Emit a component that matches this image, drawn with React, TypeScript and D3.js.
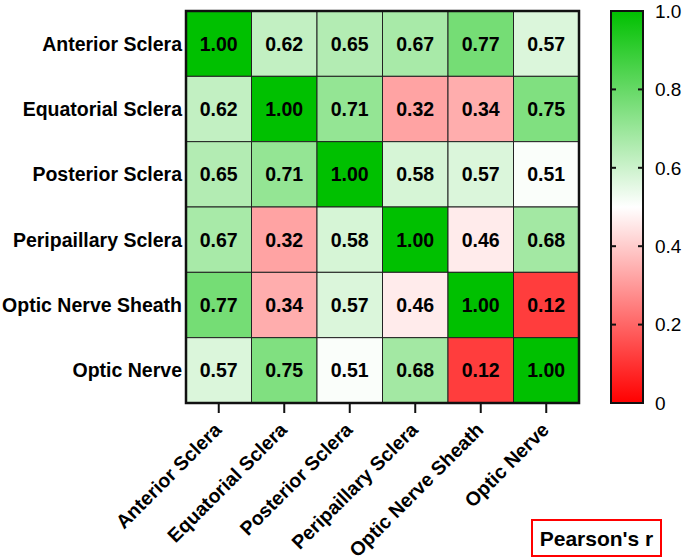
import React from 'react';
import * as d3 from 'd3';

const labels = ['Anterior Sclera', 'Equatorial Sclera', 'Posterior Sclera', 'Peripaillary Sclera', 'Optic Nerve Sheath', 'Optic Nerve'];

const rowAnterior = [1.0, 0.62, 0.65, 0.67, 0.77, 0.57];
const rowEquatorial = [0.62, 1.0, 0.71, 0.32, 0.34, 0.75];
const rowPosterior = [0.65, 0.71, 1.0, 0.58, 0.57, 0.51];
const rowPeripapillary = [0.67, 0.32, 0.58, 1.0, 0.46, 0.68];
const rowSheath = [0.77, 0.34, 0.57, 0.46, 1.0, 0.12];
const rowNerve = [0.57, 0.75, 0.51, 0.68, 0.12, 1.0];

const matrix = [rowAnterior, rowEquatorial, rowPosterior, rowPeripapillary, rowSheath, rowNerve];

const legendTicks = [0, 0.2, 0.4, 0.6, 0.8, 1.0];

const W = 685;
const H = 559;
const left = 186, top = 11, right = 579, bottom = 403;
const barX = 611, barW = 32;

export default function App() {
  const x = d3.scaleBand<string>().domain(labels).range([left, right]);
  const y = d3.scaleBand<string>().domain(labels).range([top, bottom]);
  const color = d3.scaleLinear<string>().domain([0, 0.5, 1]).range(['#ff0000', '#ffffff', '#00c000']);
  const yc = d3.scaleLinear().domain([0, 1]).range([bottom, top]);
  const font = 'Arial, "Liberation Sans", sans-serif';

  return (
    <svg width={W} height={H} style={{ position: 'absolute', left: 0, top: 0 }} fontFamily={font}>
      <defs>
        <linearGradient id="cb" x1="0" y1="1" x2="0" y2="0">
          {d3.range(0, 1.001, 0.1).map(t => (
            <stop key={t} offset={`${t * 100}%`} stopColor={color(t)} />
          ))}
        </linearGradient>
      </defs>
      {matrix.map((row, i) =>
        row.map((v, j) => (
          <g key={`${i}-${j}`}>
            <rect x={x(labels[j])} y={y(labels[i])} width={x.bandwidth()} height={y.bandwidth()}
              fill={color(v)} stroke="#222" strokeWidth={1} />
            <text x={x(labels[j])! + x.bandwidth() / 2} y={y(labels[i])! + y.bandwidth() / 2}
              dy="0.36em" textAnchor="middle" fontWeight="bold" fontSize={19.5}>{v.toFixed(2)}</text>
          </g>
        ))
      )}
      <rect x={left} y={top} width={right - left} height={bottom - top} fill="none" stroke="#111" strokeWidth={2.5} />
      {labels.map(l => (
        <text key={'r' + l} x={left - 4} y={y(l)! + y.bandwidth() / 2} dy="0.36em" textAnchor="end"
          fontWeight="bold" fontSize={19.5}>{l}</text>
      ))}
      {labels.map(l => {
        const cx = x(l)! + x.bandwidth() / 2;
        return (
          <g key={'c' + l}>
            <line x1={cx} x2={cx} y1={bottom} y2={bottom + 10} stroke="#111" strokeWidth={2} />
            <text transform={`translate(${cx + 4},${bottom + 28}) rotate(-45)`} textAnchor="end"
              fontWeight="bold" fontSize={19.5}>{l}</text>
          </g>
        );
      })}
      <rect x={barX} y={top} width={barW} height={bottom - top} fill="url(#cb)" stroke="#111" strokeWidth={2} />
      {legendTicks.map(t => (
        <g key={'t' + t}>
          {t > 0 && t < 1 && (
            <>
              <line x1={barX} x2={barX + 5} y1={yc(t)} y2={yc(t)} stroke="#111" strokeWidth={2} />
              <line x1={barX + barW - 5} x2={barX + barW} y1={yc(t)} y2={yc(t)} stroke="#111" strokeWidth={2} />
            </>
          )}
          <text x={barX + barW + 12} y={yc(t)} dy="0.36em" fontSize={19}>{t === 0 ? '0' : t.toFixed(1)}</text>
        </g>
      ))}
      <rect x={532} y={520} width={129} height={36} fill="none" stroke="#ff0000" strokeWidth={2} />
      <text x={596.5} y={538} dy="0.36em" textAnchor="middle" fontWeight="bold" fontSize={21}>Pearson's r</text>
    </svg>
  );
}
